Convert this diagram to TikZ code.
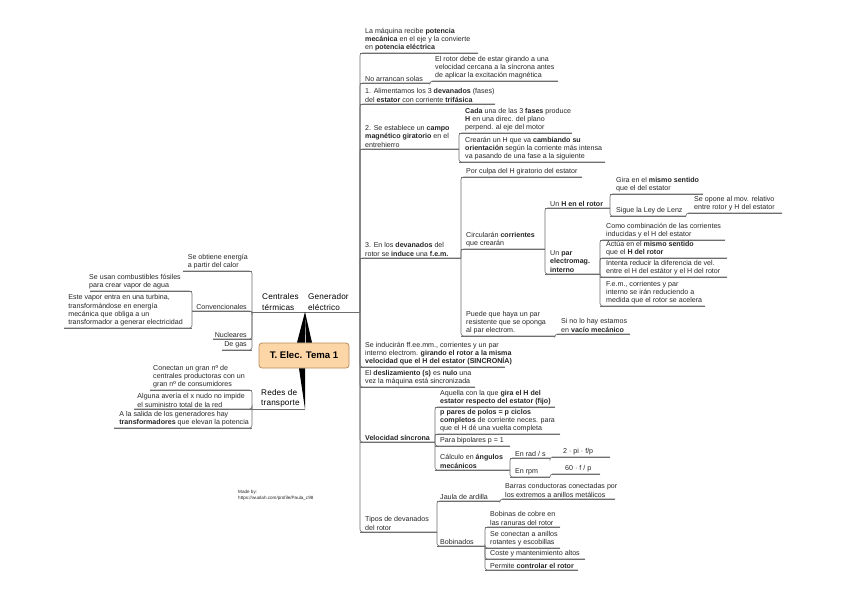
\documentclass[tikz,border=0pt]{standalone}
\usepackage{fontspec}
\setmainfont{Liberation Sans}
\usetikzlibrary{calc}
\definecolor{rootfill}{RGB}{252,214,166}
\definecolor{rootdraw}{RGB}{185,140,95}
\definecolor{lncol}{RGB}{110,110,110}
\tikzset{
  txt/.style={inner xsep=0pt, inner ysep=1.4pt, align=left, font=\fontsize{7.1}{8.4}\selectfont, text=black!85},
  mainf/.style={inner xsep=0pt, inner ysep=1.4pt, align=left, font=\fontsize{8.2}{10.6}\selectfont\addfontfeatures{LetterSpace=2}, text=black},
  tiny/.style={inner sep=0pt, align=left, font=\fontsize{4.6}{5.8}\selectfont, text=black!85},
  ul/.style={draw=lncol, line width=0.6pt},
  ln/.style={draw=lncol, line width=0.6pt, rounded corners=2.5pt},
  rootbox/.style={draw=rootdraw, fill=rootfill, line width=0.8pt, rounded corners=3pt, minimum width=90pt, minimum height=25pt, font=\fontsize{9.6}{12}\selectfont\bfseries},
}
% #1 style, #2 name, #3 text x, #4 underline x0, #5 underline x1, #6 y, #7 text
\newcommand\tpr[7][txt]{%
  \coordinate (#2-w) at (#4,#6); \coordinate (#2-e) at (#5,#6);
  \node[#1,anchor=south west] (#2) at (#3,#6) {#7};
  \draw[ul] (#2-w) -- (#2-e);}
\newcommand\tpl[7][txt]{%
  \coordinate (#2-w) at (#4,#6); \coordinate (#2-e) at (#5,#6);
  \node[#1,anchor=south east] (#2) at (#3,#6) {#7};
  \draw[ul] (#2-w) -- (#2-e);}
\newcommand\conR[2]{\draw[ln] (#1-e) |- (#2-e);}
\newcommand\conL[2]{\draw[ln] (#1-w) |- (#2-w);}
\begin{document}
\begin{tikzpicture}[x=1pt,y=-1pt]
\fill[white] (0,0) rectangle (848,599);
\useasboundingbox (0,0) rectangle (848,599);

% ---------- root and main topics ----------
\node[rootbox] (root) at (304,355.5) {T. Elec. Tema 1};
\tpr[mainf]{cent}{262}{252}{305}{312}{Centrales\\térmicas}
\tpr[mainf]{gen}{308}{305}{360}{312}{Generador\\eléctrico}
\tpr[mainf]{redes}{261}{252}{305}{409}{Redes de\\transporte}

\fill ($(root.north)+(-7,0)$) -- (cent-e) -- ($(root.north)+(1,0)$) -- cycle;
\fill ($(root.north)+(2,0)$) -- (gen-w) -- ($(root.north)+(8,0)$) -- cycle;
\fill ($(root.south)+(-5,0)$) -- (redes-e) -- ($(root.south)+(1,0)$) -- cycle;

% ---------- Centrales térmicas ----------
\tpl{c1}{248}{183}{252}{271}{Se obtiene energía\\a partir del calor}
\tpl{c2}{247}{192}{252}{311}{Convencionales}
\tpl{c2a}{181}{90}{192}{291}{Se usan combustibles fósiles\\para crear vapor de agua}
\tpl{c2b}{183}{64}{192}{328}{Este vapor entra en una turbina,\\transformándose en energía\\mecánica que obliga a un\\transformador a generar electricidad}
\tpl{c3}{247}{213}{252}{339}{Nucleares}
\tpl{c4}{247}{222}{252}{350}{De gas}
\conL{cent}{c1} \conL{cent}{c2} \conL{cent}{c3} \conL{cent}{c4}
\conL{c2}{c2a} \conL{c2}{c2b}

% ---------- Redes de transporte ----------
\tpl{r1}{245}{150}{252}{390}{Conectan un gran nº de\\centrales productoras con un\\gran nº de consumidores}
\tpl{r2}{245}{134}{252}{409}{Alguna avería el x nudo no impide\\el suministro total de la red}
\tpl{r3}{249}{114}{252}{428}{A la salida de los generadores hay\\\textbf{transformadores} que elevan la potencia}
\conL{redes}{r1} \conL{redes}{r2} \conL{redes}{r3}

% ---------- Generador eléctrico ----------
\tpr{g1}{365}{360}{478}{53}{La máquina recibe \textbf{potencia}\\\textbf{mecánica} en el eje y la convierte\\en \textbf{potencia eléctrica}}
\tpr{g2}{365}{360}{430}{83}{No arrancan solas}
\tpr{g2a}{435}{432}{558}{81}{El rotor debe de estar girando a una\\velocidad cercana a la síncrona antes\\de aplicar la excitación magnética}
\tpr{g3}{365}{360}{495}{104}{1. Alimentamos los 3 \textbf{devanados} (fases)\\del \textbf{estator} con corriente \textbf{trifásica}}
\tpr{g4}{365}{360}{459}{149}{2. Se establece un \textbf{campo}\\\textbf{magnético giratorio} en el\\entrehierro}
\tpr{g4a}{465}{459}{572}{133}{\textbf{Cada} una de las 3 \textbf{fases} produce\\\textbf{H} en una direc. del plano\\perpend. al eje del motor}
\tpr{g4b}{465}{459}{605}{162}{Crearán un H que va \textbf{cambiando su}\\\textbf{orientación} según la corriente más intensa\\va pasando de una fase a la siguiente}
\tpr{g5}{365}{360}{461}{258}{3. En los \textbf{devanados} del\\rotor se \textbf{induce} una \textbf{f.e.m.}}
\tpr{g5a}{466}{461}{582}{177}{Por culpa del H giratorio del estator}
\tpr{g5b}{466}{461}{545}{249}{Circularán \textbf{corrientes}\\que crearán}
\tpr{g5b1}{550}{545}{610}{208}{Un \textbf{H en el rotor}}
\tpr{g5b1a}{616}{610}{703}{194}{Gira en el \textbf{mismo sentido}\\que el del estator}
\tpr{g5b1b}{616}{610}{686}{216}{Sigue la Ley de Lenz}
\tpr{g5b1b1}{694}{688}{782}{213}{Se opone al mov. relativo\\entre rotor y H del estator}
\tpr{g5b2}{550}{545}{600}{274}{Un \textbf{par}\\\textbf{electromag.}\\\textbf{interno}}
\tpr{g5b2a}{606}{600}{725}{240}{Como combinación de las corrientes\\inducidas y el H del estator}
\tpr{g5b2b}{606}{600}{727}{258}{Actúa en el \textbf{mismo sentido}\\que el \textbf{H del rotor}}
\tpr{g5b2c}{606}{600}{727}{277}{Intenta reducir la diferencia de vel.\\entre el H del estátor y el H del rotor}
\tpr{g5b2d}{606}{600}{705}{306}{F.e.m., corrientes y par\\interno se irán reduciendo a\\medida que el rotor se acelera}
\tpr{g5c}{466}{461}{555}{336}{Puede que haya un par\\resistente que se oponga\\al par electrom.}
\tpr{g5c1}{561}{557}{630}{334}{Si no lo hay estamos\\en \textbf{vacío mecánico}}
\tpr{g6}{365}{360}{505}{367}{Se inducirán ff.ee.mm., corrientes y un par\\interno electrom. \textbf{girando el rotor a la misma}\\\textbf{velocidad que el H del estator (SINCRONÍA)}}
\tpr{g7}{365}{360}{475}{387}{El \textbf{deslizamiento (s)} es \textbf{nulo} una\\vez la máquina está sincronizada}
\tpr{g8}{365}{360}{435}{442}{\textbf{Velocidad síncrona}}
\tpr{g8a}{440}{435}{555}{407}{Aquella con la que \textbf{gira el H del}\\\textbf{estator respecto del estator (fijo)}}
\tpr{g8b}{440}{435}{560}{434}{\textbf{p pares de polos = p ciclos}\\\textbf{completos} de corriente neces. para\\que el H dé una vuelta completa}
\tpr{g8c}{440}{435}{510}{446}{Para bipolares p = 1}
\tpr{g8d}{440}{435}{510}{470}{Cálculo en \textbf{ángulos}\\\textbf{mecánicos}}
\tpr{g8d1}{515}{510}{550}{458}{En rad / s}
\tpr{g8d1a}{563}{552}{610}{457}{2 · pi · f/p}
\tpr{g8d2}{515}{510}{550}{477}{En rpm}
\tpr{g8d2a}{565}{552}{600}{474}{60 · f / p}
\tpr{g9}{365}{360}{437}{532}{Tipos de devanados\\del rotor}
\tpr{g9a}{440}{437}{500}{501}{Jaula de ardilla}
\tpr{g9a1}{505}{502}{615}{499}{Barras conductoras conectadas por\\los extremos a anillos metálicos}
\tpr{g9b}{440}{437}{485}{546}{Bobinados}
\tpr{g9b1}{490}{485}{560}{527}{Bobinas de cobre en\\las ranuras del rotor}
\tpr{g9b2}{490}{485}{560}{548}{Se conectan a anillos\\rotantes y escobillas}
\tpr{g9b3}{490}{485}{585}{559}{Coste y mantenimiento altos}
\tpr{g9b4}{490}{485}{578}{570}{Permite \textbf{controlar el rotor}}

\foreach \c in {g1,g2,g3,g4,g5,g6,g7,g8,g9} {\conR{gen}{\c}}
\conR{g2}{g2a}
\conR{g4}{g4a} \conR{g4}{g4b}
\conR{g5}{g5a} \conR{g5}{g5b} \conR{g5}{g5c}
\conR{g5b}{g5b1} \conR{g5b}{g5b2}
\conR{g5b1}{g5b1a} \conR{g5b1}{g5b1b}
\conR{g5b1b}{g5b1b1}
\conR{g5b2}{g5b2a} \conR{g5b2}{g5b2b} \conR{g5b2}{g5b2c} \conR{g5b2}{g5b2d}
\conR{g5c}{g5c1}
\conR{g8}{g8a} \conR{g8}{g8b} \conR{g8}{g8c} \conR{g8}{g8d}
\conR{g8d}{g8d1} \conR{g8d}{g8d2}
\conR{g8d1}{g8d1a} \conR{g8d2}{g8d2a}
\conR{g9}{g9a} \conR{g9}{g9b}
\conR{g9a}{g9a1}
\conR{g9b}{g9b1} \conR{g9b}{g9b2} \conR{g9b}{g9b3} \conR{g9b}{g9b4}

% ---------- credit ----------
\node[tiny,anchor=north west] (credit) at (238,490) {Made by:\\https://wuolah.com/profile/Paula\_c98};
\end{tikzpicture}
\end{document}
